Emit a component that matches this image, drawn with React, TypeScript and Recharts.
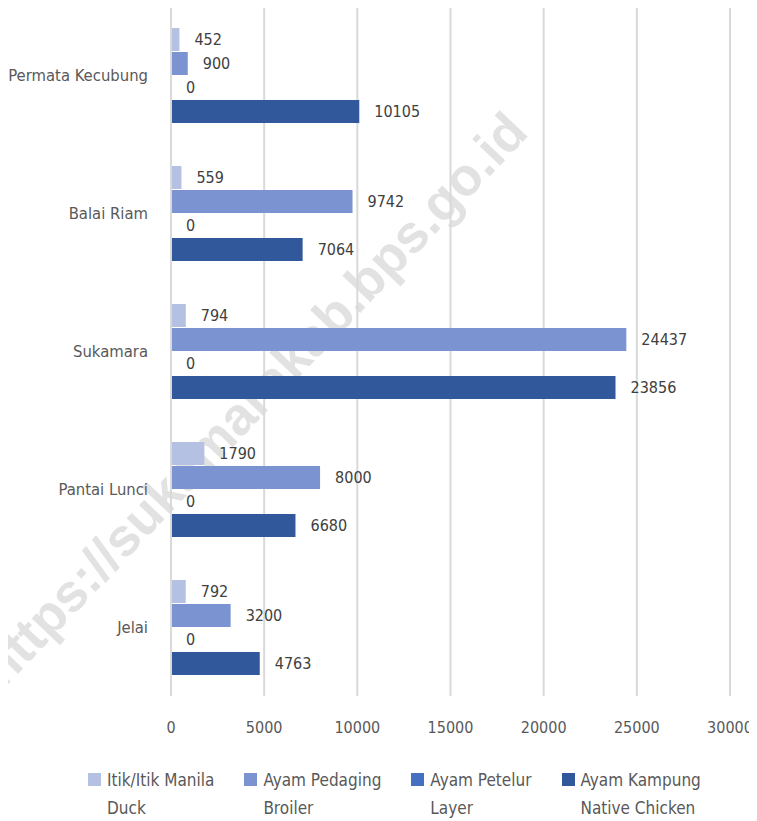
import React from "react";
import { BarChart, Bar, XAxis, YAxis, CartesianGrid, Legend, LabelList } from "recharts";

const districts = ["Permata Kecubung", "Balai Riam", "Sukamara", "Pantai Lunci", "Jelai"];
const itik = [452, 559, 794, 1790, 792];
const ayamPedaging = [900, 9742, 24437, 8000, 3200];
const ayamPetelur = [0, 0, 0, 0, 0];
const ayamKampung = [10105, 7064, 23856, 6680, 4763];
const xTicks = [0, 5000, 10000, 15000, 20000, 25000, 30000];

const seriesNames = ["Itik/Itik Manila", "Ayam Pedaging", "Ayam Petelur", "Ayam Kampung"];
const seriesNamesEn = ["Duck", "Broiler", "Layer", "Native Chicken"];
const seriesKeys = ["itik", "pedaging", "petelur", "kampung"];
const seriesColors = ["#b4c1e3", "#7b93d1", "#4470c2", "#31589a"];

const data = districts.map((name, i) => ({
  name,
  itik: itik[i],
  pedaging: ayamPedaging[i],
  petelur: ayamPetelur[i],
  kampung: ayamKampung[i],
}));

const FONT = '"DejaVu Sans Condensed", "DejaVu Sans", sans-serif';

function LegendContent() {
  return (
    <div
      style={{
        display: "flex",
        gap: 30,
        paddingLeft: 88,
        paddingTop: 20,
        fontFamily: FONT,
        fontStretch: "condensed",
        fontSize: 17,
        color: "#595959",
      }}
    >
      {seriesNames.map((n, i) => (
        <div key={n} style={{ display: "flex", alignItems: "flex-start" }}>
          <span style={{ width: 13, height: 13, background: seriesColors[i], marginTop: 7, marginRight: 6, flexShrink: 0 }} />
          <div style={{ lineHeight: "28px", whiteSpace: "nowrap" }}>
            <div>{n}</div>
            <div>{seriesNamesEn[i]}</div>
          </div>
        </div>
      ))}
    </div>
  );
}

const renderValue = (props: any) => {
  const { x, y, width, height, value } = props;
  return (
    <text
      x={Number(x) + Number(width) + 15}
      y={Number(y) + Number(height) / 2}
      dy="0.35em"
      fill="#404040"
      fontSize={16}
      fontFamily={FONT}
    >
      {value}
    </text>
  );
};

export default function App() {
  return (
    <div style={{ position: "relative", width: 757, height: 815, margin: "-2px 0 0 -8px", fontStretch: "condensed" }}>
      <div
        style={{
          position: "absolute",
          left: 253,
          top: 393,
          transform: "translate(-50%, -50%) rotate(-46.5deg)",
          whiteSpace: "nowrap",
          fontFamily: '"Liberation Sans", Arial, sans-serif',
          fontWeight: "bold",
          fontStretch: "normal",
          fontSize: 53,
          color: "#e2e2e2",
          pointerEvents: "none",
        }}
      >
        https://sukamarakab.bps.go.id
      </div>
      <div style={{ position: "absolute", left: 0, top: 0 }}>
        <BarChart
          width={757}
          height={815}
          data={data}
          layout="vertical"
          margin={{ top: 0, right: 27, left: 0, bottom: 0 }}
          barCategoryGap={22}
          barGap={1}
        >
          <CartesianGrid horizontal={false} stroke="#d9d9d9" strokeWidth={2} />
          <XAxis
            type="number"
            domain={[0, 30000]}
            ticks={xTicks}
            axisLine={false}
            tickLine={false}
            tickSize={0}
            tickMargin={26}
            height={50}
            tick={{ fill: "#595959", fontSize: 16, fontFamily: FONT }}
          />
          <YAxis
            type="category"
            dataKey="name"
            width={171}
            axisLine={{ stroke: "#d9d9d9", strokeWidth: 2 }}
            tickLine={false}
            tickSize={0}
            tickMargin={23}
            tick={{ fill: "#595959", fontSize: 16.5, fontFamily: FONT }}
          />
          <Legend verticalAlign="bottom" height={75} content={() => <LegendContent />} />
          {seriesKeys.map((k, i) => (
            <Bar
              key={k}
              dataKey={k}
              name={seriesNames[i]}
              fill={seriesColors[i]}
              minPointSize={0.01}
              isAnimationActive={false}
            >
              <LabelList dataKey={k} content={renderValue} />
            </Bar>
          ))}
        </BarChart>
      </div>
    </div>
  );
}
